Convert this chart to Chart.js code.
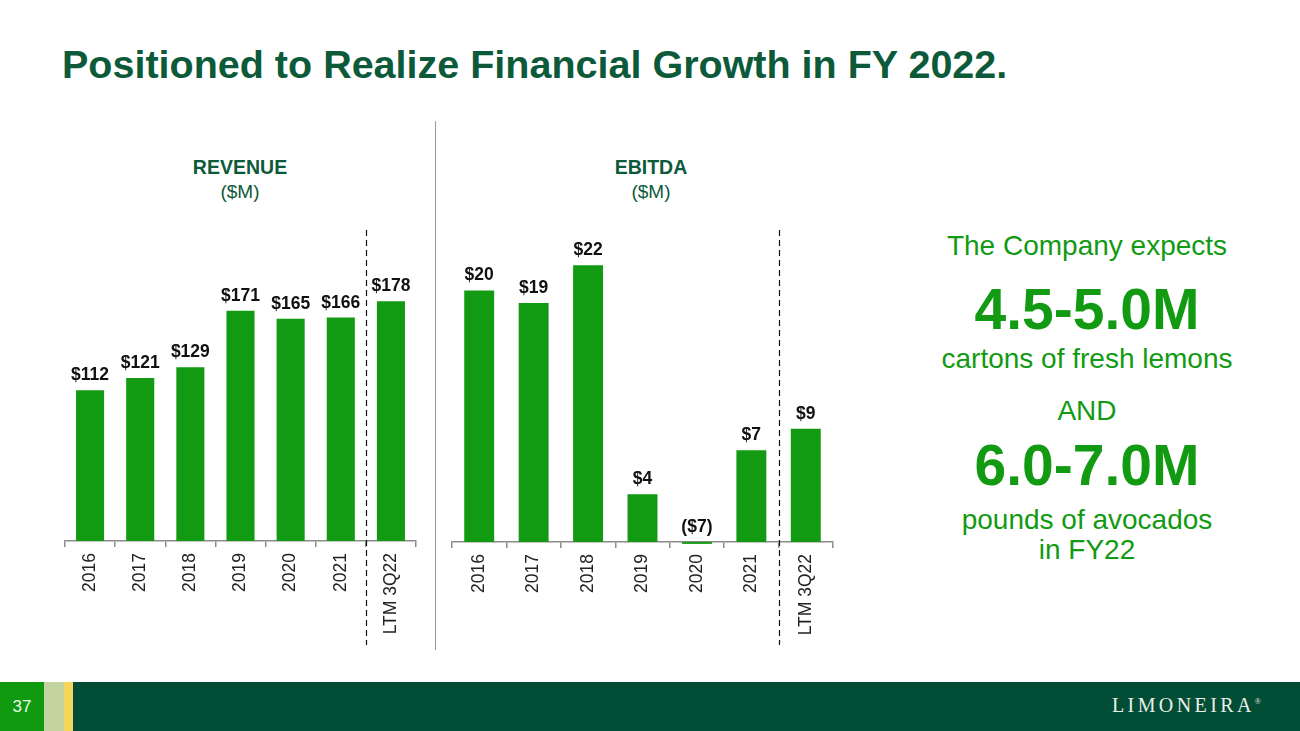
<!DOCTYPE html>
<html>
<head>
<meta charset="utf-8">
<script src="https://cdn.jsdelivr.net/npm/chart.js@4.4.1/dist/chart.umd.min.js"></script>
<style>
  body { margin: 0; width: 1300px; height: 731px; position: relative; background: #fff; overflow: hidden;
         font-family: "Liberation Sans", Arial, sans-serif; }
  .abs { position: absolute; }
  #title { left: 62px; top: 42px; font-size: 39.5px; font-weight: bold; color: #0d5a3b; white-space: nowrap; }
  .head { width: 200px; text-align: center; color: #0d5a3b; font-size: 19px; line-height: 24px; }
  .head b { font-size: 19.5px; }
  #sep { left: 435px; top: 121px; width: 1px; height: 529px; background: #9a9a9a; }
  .side { left: 920px; width: 334px; text-align: center; color: #129a12; white-space: nowrap; }
  .small { font-size: 28px; }
  .big { font-size: 57px; font-weight: bold; }
  #footer { left: 0; top: 682px; width: 1300px; height: 49px; background: #024d36; }
  #pg { left: 0; top: 682px; width: 44px; height: 49px; background: #0f9a0f; color: #eef6ee; font-size: 17px;
        text-align: center; line-height: 50px; }
  #pale { left: 44px; top: 682px; width: 20px; height: 49px; background: #c3d49e; }
  #yel { left: 64px; top: 682px; width: 9px; height: 49px; background: #f6d75c; }
  #logo { left: 1112px; top: 694px; color: #e8efe9; font-family: "Liberation Serif", serif; font-size: 20px;
          letter-spacing: 3.4px; white-space: nowrap; }
  #logo sup { font-size: 8px; letter-spacing: 0; }
</style>
</head>
<body>
<div id="title" class="abs">Positioned to Realize Financial Growth in FY 2022.</div>

<div class="abs head" style="left:140px; top:155px;"><b>REVENUE</b><br>($M)</div>
<div class="abs head" style="left:551px; top:155px;"><b>EBITDA</b><br>($M)</div>
<div id="sep" class="abs"></div>

<canvas id="revenueChart" class="abs" style="left:55px; top:230px;"></canvas>
<canvas id="ebitdaChart" class="abs" style="left:442px; top:230px;"></canvas>

<div class="abs side small" style="top:230px;">The Company expects</div>
<div class="abs side big" style="top:276px;">4.5-5.0M</div>
<div class="abs side small" style="top:343px;">cartons of fresh lemons</div>
<div class="abs side small" style="top:395px;">AND</div>
<div class="abs side big" style="top:432px;">6.0-7.0M</div>
<div class="abs side small" style="top:504px;">pounds of avocados</div>
<div class="abs side small" style="top:534px;">in FY22</div>

<div id="footer" class="abs"></div>
<div id="pg" class="abs">37</div>
<div id="pale" class="abs"></div>
<div id="yel" class="abs"></div>
<div id="logo" class="abs">LIMONEIRA<sup>®</sup></div>

<script>
const categories = ['2016', '2017', '2018', '2019', '2020', '2021', 'LTM 3Q22'];

const revenueValues = [112, 121, 129, 171, 165, 166, 178];
const revenueLabels = ['$112', '$121', '$129', '$171', '$165', '$166', '$178'];

// 2020 bar is drawn as a sliver at the baseline in the source, label reads ($7)
const ebitdaValues = [20, 19, 22, 3.8, -0.15, 7.3, 9];
const ebitdaLabels = ['$20', '$19', '$22', '$4', '($7)', '$7', '$9'];

const barGreen = '#129a12';

// value labels above each bar + dashed divider before the LTM column
const slidePlugin = {
    id: 'slideExtras',
    afterDatasetsDraw(chart, args, opts) {
        const ctx = chart.ctx;
        const meta = chart.getDatasetMeta(0);
        ctx.save();
        ctx.font = 'bold 17.5px "Liberation Sans", Arial, sans-serif';
        ctx.fillStyle = '#111';
        ctx.textAlign = 'center';
        ctx.textBaseline = 'alphabetic';
        meta.data.forEach((bar, i) => {
            ctx.fillText(opts.labels[i], bar.x, Math.min(bar.y, bar.base) - 10);
        });
        const xs = chart.scales.x;
        const divX = Math.round((xs.getPixelForValue(5) + xs.getPixelForValue(6)) / 2) + 0.5;
        ctx.strokeStyle = '#111';
        ctx.lineWidth = 1.2;
        ctx.setLineDash([6, 4]);
        ctx.beginPath();
        ctx.moveTo(divX, 0);
        ctx.lineTo(divX, 415);
        ctx.stroke();
        ctx.restore();
    }
};

function makeChart(id, width, values, labels, yMax, barPct, axisHeight) {
    const canvas = document.getElementById(id);
    canvas.width = width;
    canvas.height = 420;
    canvas.style.width = width + 'px';
    canvas.style.height = '420px';
    return new Chart(canvas.getContext('2d'), {
        type: 'bar',
        data: {
            labels: categories,
            datasets: [{
                data: values,
                backgroundColor: barGreen,
                borderWidth: 0,
                categoryPercentage: 1,
                barPercentage: barPct,
                clip: false
            }]
        },
        options: {
            responsive: false,
            animation: false,
            layout: { padding: { left: 10, right: 10, top: 0, bottom: 0 } },
            plugins: {
                legend: { display: false },
                tooltip: { enabled: false },
                slideExtras: { labels: labels }
            },
            scales: {
                x: {
                    afterFit: (scale) => { scale.height = axisHeight; },
                    border: { display: true, color: '#8c8c8c', width: 1.5 },
                    grid: { drawOnChartArea: false, drawTicks: true, tickLength: 6, color: '#8c8c8c', lineWidth: 1.5 },
                    ticks: {
                        minRotation: 90,
                        maxRotation: 90,
                        padding: 6,
                        color: '#222',
                        font: { family: '"Liberation Sans", Arial, sans-serif', size: 17.5 }
                    }
                },
                y: { display: false, min: 0, max: yMax }
            }
        },
        plugins: [slidePlugin]
    });
}

makeChart('revenueChart', 371, revenueValues, revenueLabels, 231, 0.56, 109);
makeChart('ebitdaChart', 401, ebitdaValues, ebitdaLabels, 24.8, 0.55, 108);
</script>
</body>
</html>
